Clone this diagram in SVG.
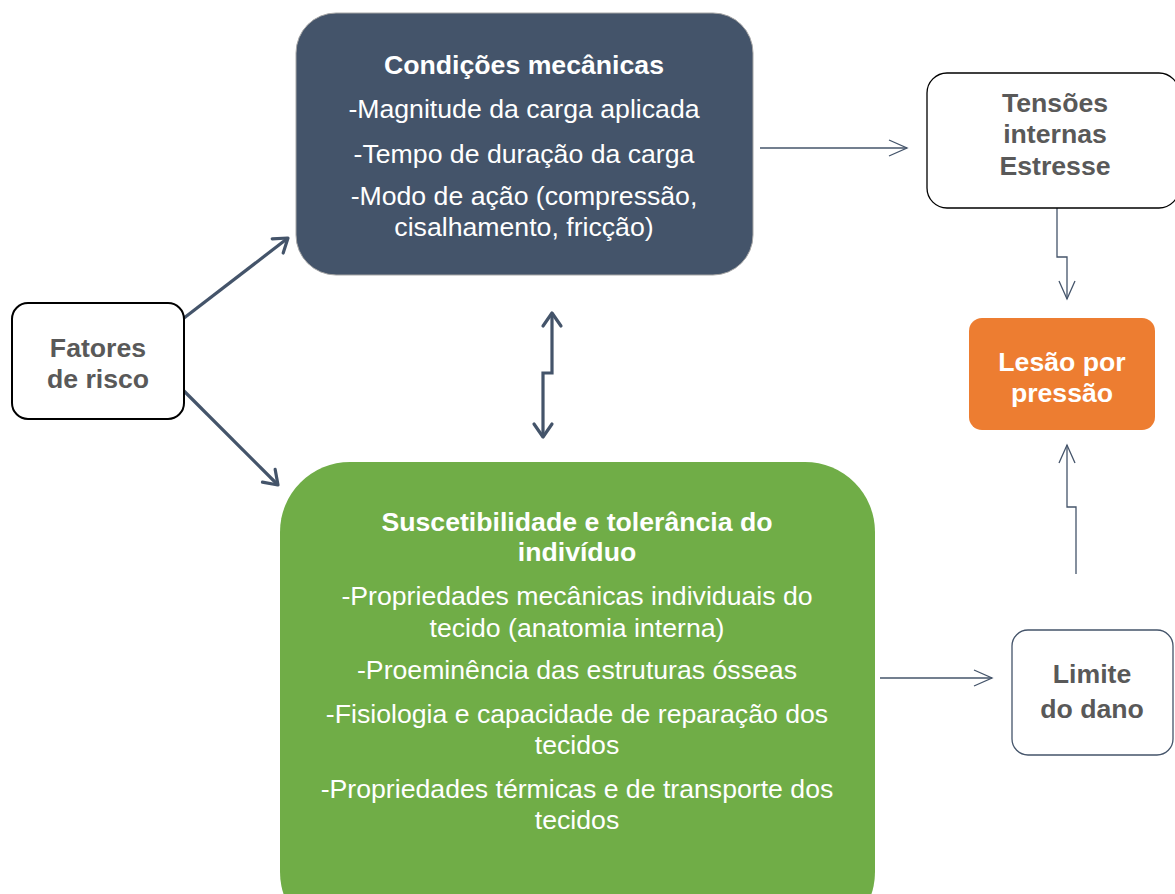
<svg xmlns="http://www.w3.org/2000/svg" width="1175" height="894" viewBox="0 0 1175 894">
<defs>
<style>
text{font-family:"Liberation Sans",Arial,sans-serif;text-anchor:middle;font-size:26.67px}
.b{font-weight:bold}
.w{fill:#ffffff}
.g{fill:#595959}
.thick{fill:none;stroke:#44546a;stroke-width:3.2;stroke-linejoin:miter}
.thin{fill:none;stroke:#44546a;stroke-width:1.3}
</style>
<marker id="ah" viewBox="0 0 12 12" refX="11" refY="6" markerWidth="12" markerHeight="12" markerUnits="userSpaceOnUse" orient="auto-start-reverse" overflow="visible">
<path d="M-2,-3 L11,6 L-2,15" fill="none" stroke="#44546a" stroke-width="3.2" stroke-linecap="round" stroke-linejoin="round"/>
</marker>
<marker id="at" viewBox="0 0 20 20" refX="20" refY="10" markerWidth="20" markerHeight="20" markerUnits="userSpaceOnUse" orient="auto" overflow="visible">
<path d="M2,2 L20,10 L2,18" fill="none" stroke="#44546a" stroke-width="1.3"/>
</marker>
</defs>
<rect width="1175" height="894" fill="#ffffff"/>
<g id="connectors">
<path class="thick" d="M184,318 L288,238" marker-end="url(#ah)"/>
<path class="thick" d="M184,391 L278,485" marker-end="url(#ah)"/>
<path class="thick" d="M552,313 L552,373 L543,373 L543,437" marker-start="url(#ah)" marker-end="url(#ah)"/>
<path class="thin" d="M760,148 L907,148" marker-end="url(#at)"/>
<path class="thin" d="M1057,208 L1057,257 L1067,257 L1067,299" marker-end="url(#at)"/>
<path class="thin" d="M1076,574 L1076,507 L1067,507 L1067,445" marker-end="url(#at)"/>
<path class="thin" d="M880,678 L992,678" marker-end="url(#at)"/>
</g>
<g id="fatores">
<rect x="12" y="303" width="172" height="116" rx="16" fill="#ffffff" stroke="#000000" stroke-width="2"/>
<text class="b g" x="98" y="357">Fatores</text>
<text class="b g" x="98" y="388">de risco</text>
</g>
<g id="condicoes">
<rect x="296" y="13" width="457" height="262" rx="40" fill="#44546a" stroke="#a6a6a6" stroke-width="1"/>
<text class="b w" x="524" y="74">Condições mecânicas</text>
<text class="w" x="524" y="118">-Magnitude da carga aplicada</text>
<text class="w" x="524" y="163">-Tempo de duração da carga</text>
<text class="w" x="524" y="205">-Modo de ação (compressão,</text>
<text class="w" x="524" y="236">cisalhamento, fricção)</text>
</g>
<g id="suscetibilidade">
<rect x="280" y="462" width="595" height="480" rx="70" fill="#70ad47"/>
<text class="b w" x="577" y="531">Suscetibilidade e tolerância do</text>
<text class="b w" x="577" y="561">indivíduo</text>
<text class="w" x="577" y="605">-Propriedades mecânicas individuais do</text>
<text class="w" x="577" y="637">tecido (anatomia interna)</text>
<text class="w" x="577" y="679">-Proeminência das estruturas ósseas</text>
<text class="w" x="577" y="723">-Fisiologia e capacidade de reparação dos</text>
<text class="w" x="577" y="754">tecidos</text>
<text class="w" x="577" y="798">-Propriedades térmicas e de transporte dos</text>
<text class="w" x="577" y="829">tecidos</text>
</g>
<g id="tensoes">
<rect x="927" y="73" width="252" height="135" rx="20" fill="#ffffff" stroke="#000000" stroke-width="1.3"/>
<text class="b g" x="1055" y="112">Tensões</text>
<text class="b g" x="1055" y="143">internas</text>
<text class="b g" x="1055" y="175">Estresse</text>
</g>
<g id="lesao">
<rect x="969" y="318" width="186" height="112" rx="13" fill="#ed7d31"/>
<text class="b w" x="1062" y="371">Lesão por</text>
<text class="b w" x="1062" y="402">pressão</text>
</g>
<g id="limite">
<rect x="1012" y="630" width="161" height="125" rx="16" fill="#ffffff" stroke="#44546a" stroke-width="1.3"/>
<text class="b g" x="1092" y="683">Limite</text>
<text class="b g" x="1092" y="718">do dano</text>
</g>
</svg>
